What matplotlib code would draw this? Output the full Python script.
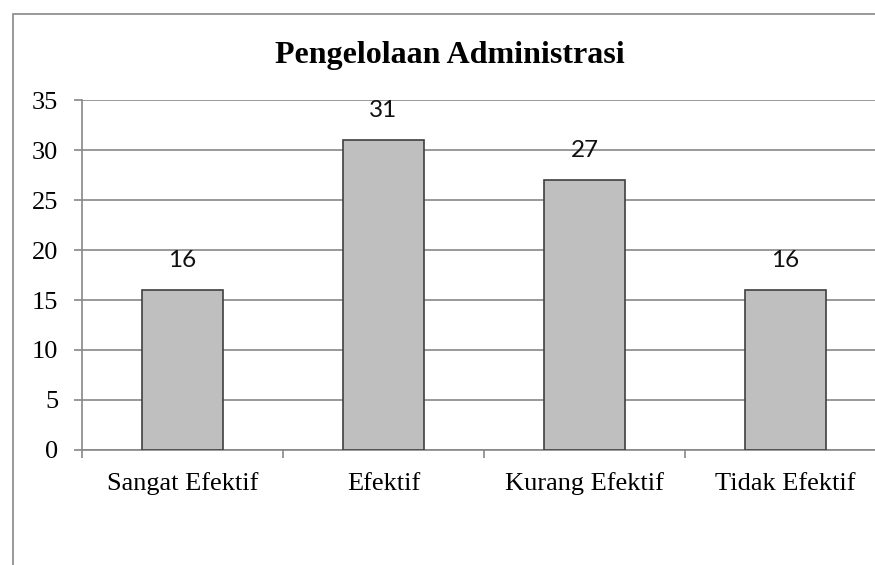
import numpy as np
import matplotlib.pyplot as plt
from matplotlib.patches import Rectangle

# Data
categories = ['Sangat Efektif', 'Efektif', 'Kurang Efektif', 'Tidak Efektif']
values = [16, 31, 27, 16]
yticks = [0, 5, 10, 15, 20, 25, 30, 35]

fig = plt.figure(figsize=(8.75, 5.65), dpi=100)
ax = fig.add_axes([82 / 875, 1 - 450 / 565, 804 / 875, 350 / 565])

# outer chart frame (cut off on right and bottom like the original)
fig.patches.append(Rectangle((12.5 / 875, -0.1), 1.2, 1 - 14 / 565 + 0.1,
                             transform=fig.transFigure, fill=False,
                             edgecolor='#878787', linewidth=1.2))

x = np.arange(len(categories))
bars = ax.bar(x, values, width=0.4, color='#BFBFBF', edgecolor='#404040',
              linewidth=1.2, zorder=3)

for xi, v in zip(x, values):
    ax.text(xi, v + 1.9, str(v), ha='center', va='bottom',
            family='Lato', fontsize=17.5, color='#111111')

ax.set_xlim(-0.5, len(categories) - 0.5)
ax.set_ylim(0, 35)
ax.set_yticks(yticks)
ax.set_yticklabels([str(t) for t in yticks], family='Liberation Serif', fontsize=19)
ax.yaxis.grid(True, color='#878787', linewidth=1.2, zorder=0)
ax.set_axisbelow(True)

ax.set_xticks(x)
ax.set_xticklabels(categories, family='Liberation Serif', fontsize=19)
for lab in ax.get_xticklabels():
    lab.set_verticalalignment('baseline')
ax.set_xticks(np.arange(len(categories) + 1) - 0.5, minor=True)
ax.tick_params(axis='x', which='major', length=0, pad=28.5)
ax.tick_params(axis='x', which='minor', length=6, width=1.2, color='#878787')
ax.tick_params(axis='y', length=6, width=1.2, color='#878787', pad=11)

for s in ['top', 'right']:
    ax.spines[s].set_visible(False)
for s in ['left', 'bottom']:
    ax.spines[s].set_color('#878787')
    ax.spines[s].set_linewidth(1.2)

fig.text(450 / 875, 1 - 63 / 565, 'Pengelolaan Administrasi', ha='center', va='baseline',
         family='Liberation Serif', fontweight='bold', fontsize=23)

fig.savefig('out.png', dpi=100)
